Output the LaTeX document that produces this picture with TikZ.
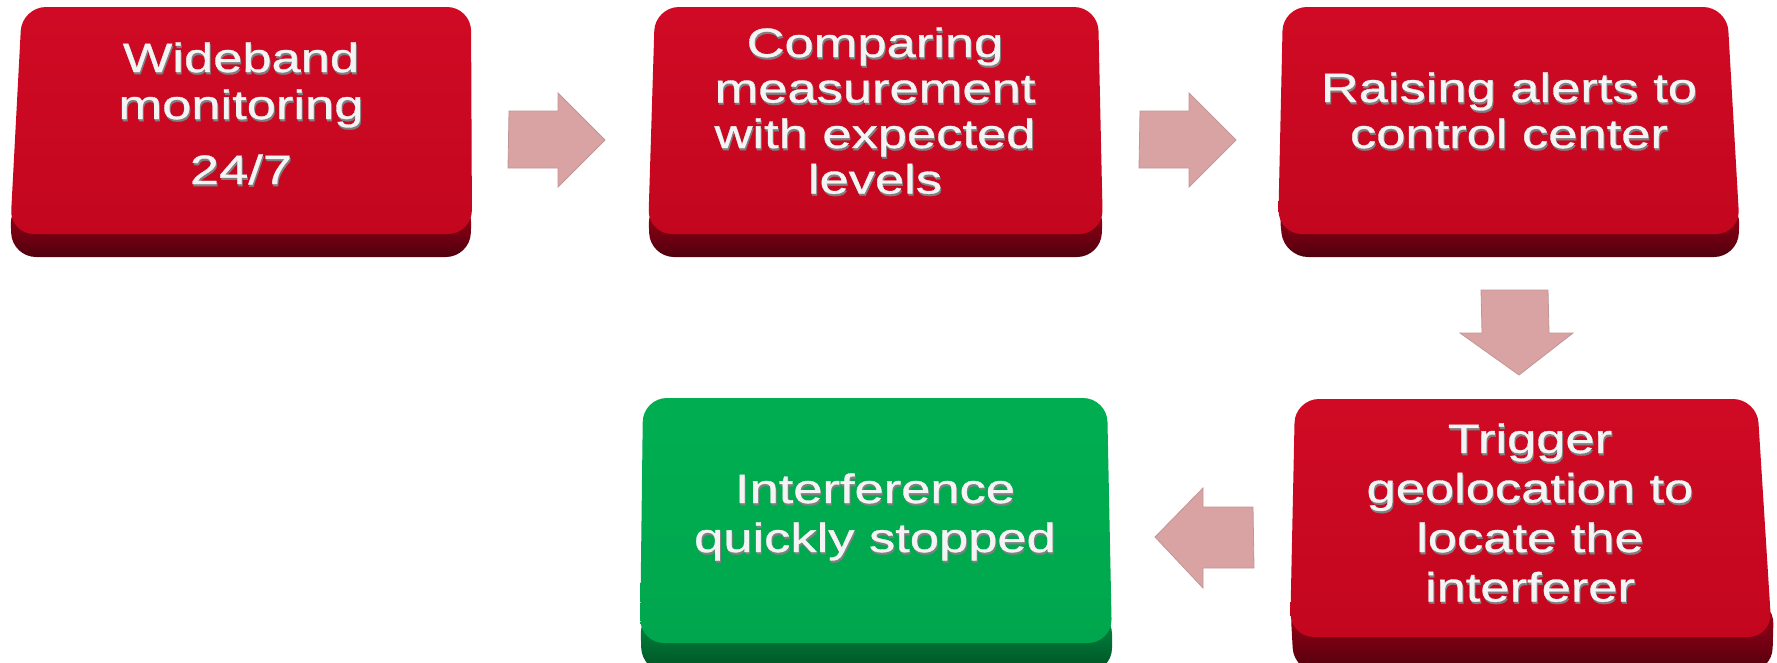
\documentclass[tikz,border=0pt]{standalone}
\usepackage{fontspec}
\newfontfamily\bfnt[FakeStretch=1.28,FakeBold=0.8]{Liberation Sans}
\definecolor{redtop}{HTML}{D00A24}
\definecolor{redbot}{HTML}{C3061E}
\definecolor{redsidetop}{HTML}{A80019}
\definecolor{redsidebot}{HTML}{50000D}
\definecolor{grntop}{HTML}{00AE51}
\definecolor{grnbot}{HTML}{00A64D}
\definecolor{grnsidetop}{HTML}{009244}
\definecolor{grnsidebot}{HTML}{005024}
\definecolor{arrfill}{HTML}{D9A3A3}
\definecolor{arrdraw}{HTML}{C29696}
\definecolor{txtwhite}{HTML}{F4F4F4}
\definecolor{txtshadow}{HTML}{808080}
\newcommand\btxt[2]{\vtop{\baselineskip=#1\lineskiplimit=-100pt\halign{\hfil##\hfil\cr#2\crcr}}}
\tikzset{
  redface/.style={top color=redtop, bottom color=redbot, rounded corners=24pt},
  redside/.style={top color=redsidetop, bottom color=redsidebot, rounded corners=24pt},
  grnface/.style={top color=grntop, bottom color=grnbot, rounded corners=24pt},
  grnside/.style={top color=grnsidetop, bottom color=grnsidebot, rounded corners=24pt},
  blockarrow/.style={fill=arrfill, draw=arrdraw, line width=0.8pt, line join=miter},
  txt/.style={inner sep=0pt, anchor=base, text=txtwhite, font=\bfnt\fontsize{41}{47}\selectfont},
  txtsh/.style={txt, text=txtshadow, xshift=1pt, yshift=-2.2pt}
}
\begin{document}
\begin{tikzpicture}[x=1pt,y=-1pt]
\useasboundingbox (0,0) rectangle (1777,662);
\clip (0,0) rectangle (1777,662);
\fill[white] (0,0) rectangle (1777,662);
% box 1
\shade[redside] (10,200) -- (12,257) -- (470,257) -- (472,200) -- cycle;
\shade[redface] (22,7) -- (471,7) -- (472,234) -- (10,234) -- cycle;
% box 2
\shade[redside] (648,200) -- (650,257) -- (1101,257) -- (1103,200) -- cycle;
\shade[redface] (655,7) -- (1098,7) -- (1103,234) -- (648,234) -- cycle;
% box 3
\shade[redside] (1278,200) -- (1284,257) -- (1738,257) -- (1740,200) -- cycle;
\shade[redface] (1283,7) -- (1727,7) -- (1740,234) -- (1278,234) -- cycle;
% box 4
\shade[redside] (1290,600) -- (1294,672) -- (1772,672) -- (1774,600) -- cycle;
\shade[redface] (1295,399) -- (1757,399) -- (1772,637) -- (1290,637) -- cycle;
% box 5 green
\shade[grnside] (640,610) -- (642,672) -- (1112,672) -- (1112,610) -- cycle;
\shade[grnface] (643,398) -- (1107,398) -- (1112,643) -- (640,643) -- cycle;
% texts
\node[txtsh] (n1s) at (241,72) {\btxt{47pt}{Wideband\cr monitoring\cr\noalign{\vskip 18pt}24/7}};
\node[txt] (n1) at (241,72) {\btxt{47pt}{Wideband\cr monitoring\cr\noalign{\vskip 18pt}24/7}};
\node[txtsh] (n2s) at (875,57) {\btxt{45.5pt}{Comparing\cr measurement\cr with expected\cr levels}};
\node[txt] (n2) at (875,57) {\btxt{45.5pt}{Comparing\cr measurement\cr with expected\cr levels}};
\node[txtsh] (n3s) at (1509,102) {\btxt{46pt}{Raising alerts to\cr control center}};
\node[txt] (n3) at (1509,102) {\btxt{46pt}{Raising alerts to\cr control center}};
\node[txtsh] (n4s) at (1530,453) {\btxt{49.5pt}{Trigger\cr geolocation to\cr locate the\cr interferer}};
\node[txt] (n4) at (1530,453) {\btxt{49.5pt}{Trigger\cr geolocation to\cr locate the\cr interferer}};
\node[txtsh] (n5s) at (875,503) {\btxt{49pt}{Interference\cr quickly stopped}};
\node[txt] (n5) at (875,503) {\btxt{49pt}{Interference\cr quickly stopped}};
% block arrows
\draw[blockarrow] (509,111) -- (558,111) -- (558,93) -- (605,140) -- (558,187) -- (558,168) -- (508,168) -- cycle;
\draw[blockarrow] (1140,111) -- (1189,111) -- (1189,93) -- (1236,140) -- (1189,187) -- (1189,168) -- (1139,168) -- cycle;
\draw[blockarrow] (1481,290) -- (1548,290) -- (1549,333) -- (1573,333) -- (1519,375) -- (1460,333) -- (1482,333) -- cycle;
\draw[blockarrow] (1253,507) -- (1203,507) -- (1203,488) -- (1155,537) -- (1203,588) -- (1203,568) -- (1254,568) -- cycle;
\end{tikzpicture}
\end{document}
